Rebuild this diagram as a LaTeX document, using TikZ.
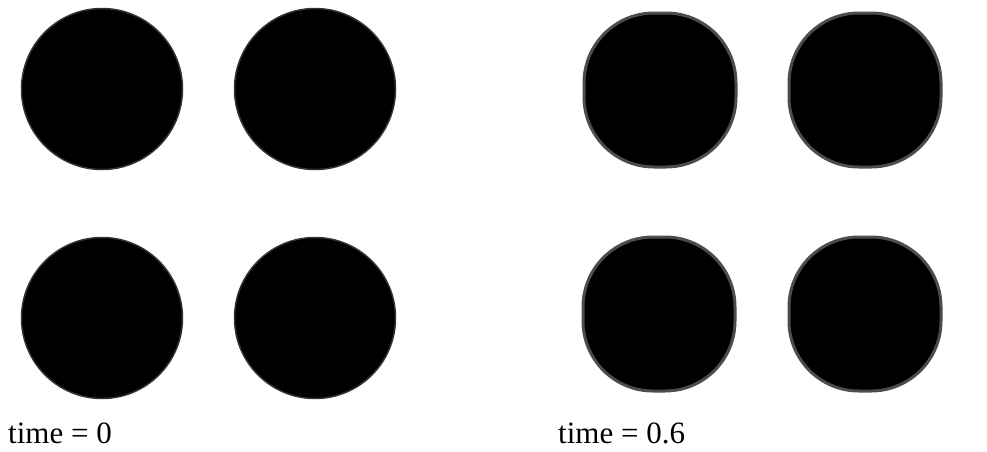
\documentclass[tikz,border=0pt]{standalone}
\usepackage{fontspec}
\setmainfont{Liberation Serif}
\usepackage{tikz}
\tikzset{
  drop/.style={circle,fill=black,draw=black!80,line width=1.5pt,
               minimum size=161pt,inner sep=0pt},
  blob/.style={rectangle,rounded corners=70pt,fill=black,draw=black!70,
               line width=3pt,minimum width=152pt,minimum height=154pt,
               inner sep=0pt},
  stamp/.style={font=\fontsize{31}{34}\selectfont,anchor=base west,inner sep=0pt},
}
\begin{document}
\begin{tikzpicture}[x=1pt,y=-1pt]
  \useasboundingbox (0,0) rectangle (987,451);
  % time = 0
  \node[drop] (d11) at (102,89) {};
  \node[drop] (d12) at (315,89) {};
  \node[drop] (d21) at (102,318) {};
  \node[drop] (d22) at (315,318) {};
  % time = 0.6
  \node[blob] (b11) at (660,90) {};
  \node[blob] (b12) at (865,90) {};
  \node[blob] (b21) at (659,314) {};
  \node[blob] (b22) at (865,314) {};
  \node[stamp] (t0) at (8,443) {time = 0};
  \node[stamp] (t6) at (558,443) {time = 0.6};
\end{tikzpicture}
\end{document}
